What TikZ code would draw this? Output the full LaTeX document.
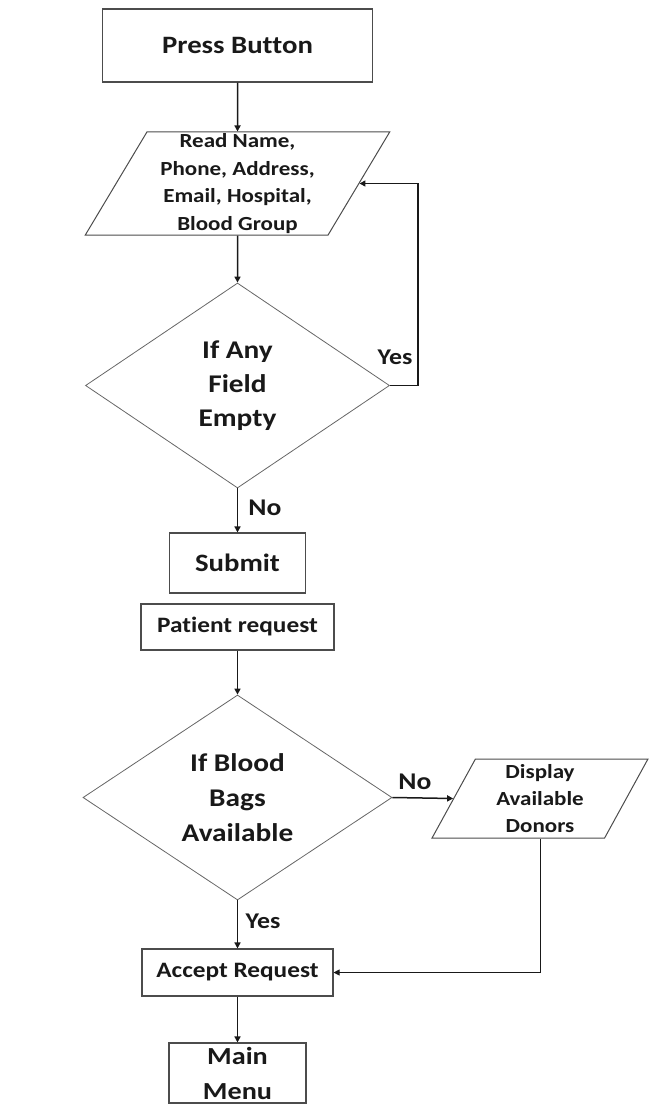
\documentclass[tikz,border=0pt]{standalone}
\usepackage{fontspec}
\newfontfamily\cf{Carlito}[FakeStretch=1.15, Ligatures={NoCommon}]
\usetikzlibrary{shapes.geometric,arrows.meta}
\tikzset{
  base/.style={font=\cf\bfseries, align=center, text=black!90, inner sep=0pt},
  box/.style={base, draw=black!70, line width=1.1pt, rectangle},
  dia/.style={base, draw=black!60, line width=0.8pt, diamond},
  para/.style={base, draw=black!70, line width=1pt, trapezium, trapezium stretches=true},
  arr/.style={draw=black!90, line width=1.5pt, -{Triangle[length=6pt,width=6pt]}},
  lbl/.style={font=\cf\bfseries, text=black!90, inner sep=0pt},
}
\begin{document}
\begin{tikzpicture}[x=1pt,y=-1pt]
\useasboundingbox (0,0) rectangle (662,1113);
\node[box, minimum width=270pt, minimum height=73pt, font=\cf\bfseries\fontsize{25}{30}\selectfont] (press) at (237.5,45.5) {Press Button};
\node[para, trapezium left angle=60, trapezium right angle=120, minimum width=305pt, minimum height=103pt, font=\cf\bfseries\fontsize{20}{27.8}\selectfont] (read) at (237.5,183.5) {\raisebox{-2pt}{\parbox{6cm}{\centering Read Name,\\Phone, Address,\\Email, Hospital,\\Blood Group}}};
\node[dia, minimum width=304pt, minimum height=205pt, font=\cf\bfseries\fontsize{25.5}{34}\selectfont] (d1) at (237.5,385.5) {If Any\\Field\\Empty};
\node[box, minimum width=136pt, minimum height=60pt, font=\cf\bfseries\fontsize{25}{30}\selectfont] (submit) at (237.5,563) {Submit};
\node[box, minimum width=193pt, minimum height=46pt, font=\cf\bfseries\fontsize{22}{26}\selectfont] (pat) at (237.5,627) {Patient request};
\node[dia, minimum width=309pt, minimum height=205pt, font=\cf\bfseries\fontsize{25.5}{35}\selectfont] (d2) at (237.5,797.5) {If Blood\\Bags\\Available};
\node[para, trapezium left angle=66.7, trapezium right angle=113.3, minimum width=216pt, minimum height=79pt, font=\cf\bfseries\fontsize{20}{27}\selectfont] (disp) at (540,798.5) {Display\\Available\\Donors};
\node[box, minimum width=191pt, minimum height=47pt, font=\cf\bfseries\fontsize{22}{26}\selectfont] (acc) at (237.5,972.5) {Accept Request};
\node[box, minimum width=137pt, minimum height=60pt, font=\cf\bfseries\fontsize{24.5}{35}\selectfont] (menu) at (237.5,1073) {Main\\Menu};
\coordinate (lp) at (418,0);
\draw[arr] (press.south) -- (read.north);
\draw[arr] (read.south) -- (d1.north);
\draw[arr] (d1.east) -| (lp |- read.east) -- (read.east);
\draw[arr] (d1.south) -- (submit.north);
\draw[arr] (pat.south) -- (d2.north);
\draw[arr] (d2.east) -- (disp.west);
\draw[arr] (d2.south) -- (acc.north);
\draw[arr, line width=1pt] (disp.south) |- (acc.east);
\draw[arr] (acc.south) -- (menu.north);
\node[lbl, font=\cf\bfseries\fontsize{22.5}{26}\selectfont] (yes1) at (395,357) {Yes};
\node[lbl, font=\cf\bfseries\fontsize{24}{28}\selectfont] (no1) at (265,508) {No};
\node[lbl, font=\cf\bfseries\fontsize{24}{28}\selectfont] (no2) at (415,782) {No};
\node[lbl, font=\cf\bfseries\fontsize{22.5}{26}\selectfont] (yes2) at (263,921) {Yes};
\end{tikzpicture}
\end{document}
